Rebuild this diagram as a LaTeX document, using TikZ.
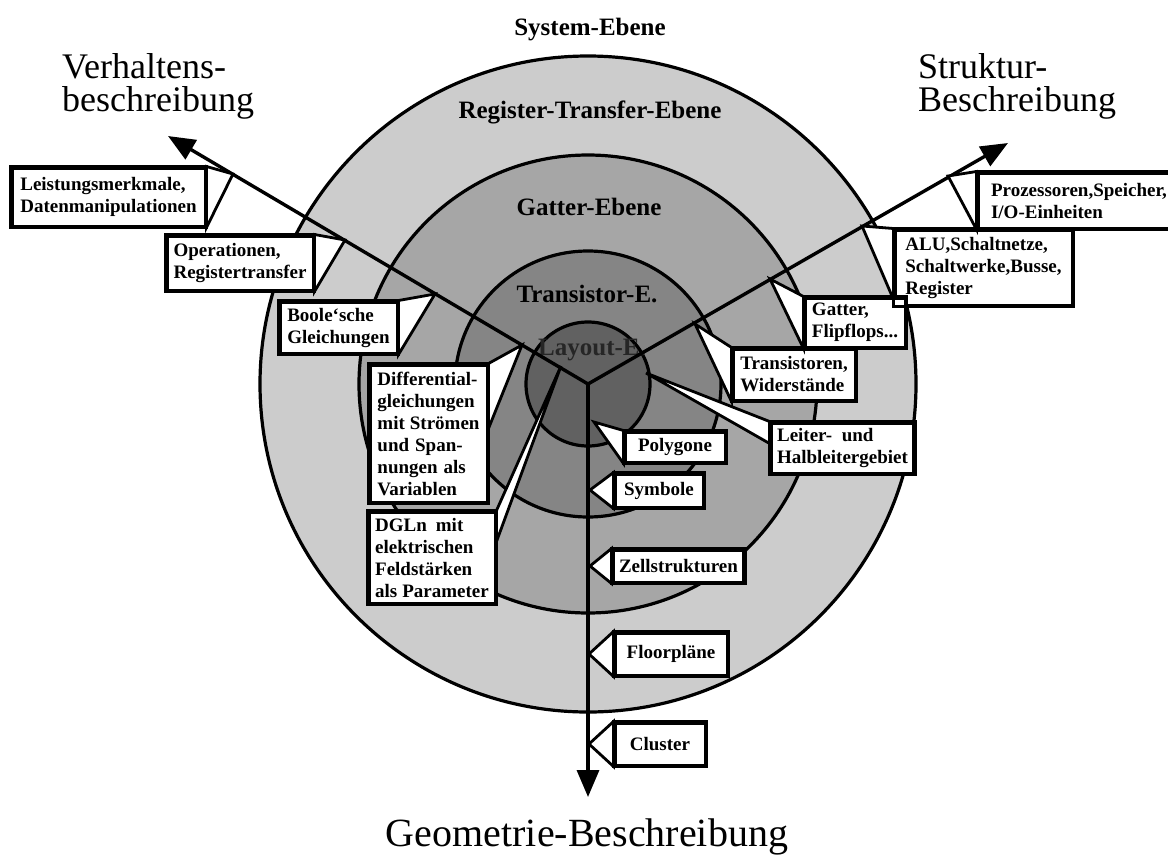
\documentclass[tikz,border=0pt]{standalone}
\usepackage{fontspec}
\setmainfont{Liberation Serif}
\usetikzlibrary{arrows.meta,calc}

\begin{document}
\begin{tikzpicture}[x=1pt,y=-1pt,
  ring/.style={draw=black, line width=3.2pt},
  axis/.style={line width=3.4pt, -{Triangle[length=27pt,width=22pt]}},
  lbl/.style={draw, fill=white, line width=3pt,
    font=\fontsize{19}{22}\selectfont\bfseries, align=left,
    inner xsep=6pt, inner ysep=2pt},
  frame/.style={line width=3pt},
  flag/.style={draw, fill=white, line width=2.8pt, line join=miter},
  level/.style={font=\fontsize{25}{28}\selectfont\bfseries, anchor=base},
  view/.style={font=\fontsize{36}{33}\selectfont, align=left, inner sep=0pt, anchor=north west}
]
\useasboundingbox (0,0) rectangle (1168,863);
\clip (0,0) rectangle (1168,863);
\fill[white] (0,0) rectangle (1168,863);

% abstraction levels as concentric rings
\coordinate (c) at (588,384);
\filldraw[ring, fill=black!20] (c) circle[radius=328];
\filldraw[ring, fill=black!35] (c) circle[radius=229];
\filldraw[ring, fill=black!48] (c) circle[radius=133];
\filldraw[ring, fill=black!62] (c) circle[radius=62];

\node[level] (sys) at (590,35) {System-Ebene};
\node[level] (rt)  at (590,118) {Register-Transfer-Ebene};
\node[level] (ga)  at (589,215) {Gatter-Ebene};
\node[level] (tr)  at (587,302) {Transistor-E.};
\node[level, text=black!85] (la)  at (592,355) {Layout-E.};

% the three views
\coordinate (vtip) at (168,136);
\coordinate (stip) at (1008,143);
\coordinate (gtip) at (588,797);
\draw[axis] (c) -- (vtip);
\draw[axis] (c) -- (stip);
\draw[axis] (c) -- (gtip);

\node[view] (verh) at (62,53) {Verhaltens-\\beschreibung};
\node[view] (strk) at (918,53) {Struktur-\\Beschreibung};
\node[font=\fontsize{40}{42}\selectfont, anchor=base] (geom) at (587,846) {Geometrie-Beschreibung};

% callout boxes
\node[lbl, minimum width=193pt, minimum height=58pt] (leist) at (108.5,197) {Leistungsmerkmale,\\Datenmanipulationen};
\node[lbl, minimum width=146pt, minimum height=54pt] (oper) at (240,263) {Operationen,\\Registertransfer};
\node[lbl, minimum width=117pt, minimum height=51pt] (boole) at (338.5,327.5) {Boole‘sche\\Gleichungen};
\node[lbl, minimum width=117pt, minimum height=137pt] (diff) at (428.5,433.5)
  {Differential-\\gleichungen\\mit\hspace{5pt}Strömen\\und\hspace{6pt}Span-\\nungen\hspace{6pt}als\\Variablen};
\node[lbl, minimum width=126pt, minimum height=91pt] (dgln) at (432,557.5)
  {DGLn\hspace{9pt}mit\\elektrischen\\Feldstärken\\als\hspace{5pt}Parameter};

\node[lbl, minimum width=202pt, minimum height=55pt] (proz) at (1079,200.5) {Prozessoren,Speicher,\\I/O-Einheiten};
\node[lbl, minimum width=177pt, minimum height=75pt] (alu) at (983.5,267.5) {ALU,Schaltnetze,\\Schaltwerke,Busse,\\Register};
\node[lbl, minimum width=100pt, minimum height=49pt] (gatt) at (855,322.5) {Gatter,\\Flipflops...};
\node[lbl, minimum width=122pt, minimum height=51pt] (trans) at (794,374.5) {Transistoren,\\Widerstände};
\node[lbl, minimum width=141pt, minimum height=50pt] (leiter) at (842.5,448) {Leiter-\ \ und\\Halbleitergebiet};

\node[lbl, minimum width=100pt, minimum height=30pt] (poly) at (675,447) {Polygone};
\node[lbl, minimum width=88pt, minimum height=33pt] (symb) at (659,490.5) {Symbole};
\node[lbl, minimum width=127pt, minimum height=32pt] (zell) at (678.5,566) {Zellstrukturen};
\node[lbl, minimum width=112pt, minimum height=42pt] (floor) at (671,654) {Floorpläne};
\node[lbl, minimum width=90pt, minimum height=42pt] (clus) at (660,744) {Cluster};

% pointer tips on the axes
\coordinate (pLeist) at (233,174);
\coordinate (pOper) at (345,240);
\coordinate (pBoole) at (435,294);
\coordinate (pDiff) at (522,345);
\coordinate (pDgln) at (561,366);
\coordinate (pProz) at (948,176);
\coordinate (pAlu) at (862,226);
\coordinate (pGatt) at (770,279);
\coordinate (pTrans) at (695,324);
\coordinate (pLeiter) at (646,373);
\coordinate (pPoly) at (594,422);
\coordinate (pSymb) at (590,490);
\coordinate (pZell) at (590,566);
\coordinate (pFloor) at (589,654);
\coordinate (pClus) at (589,744);

% white pointer flags
\filldraw[flag] (leist.north east) -- (pLeist) -- (leist.south east) -- cycle;
\filldraw[flag] (oper.north east) -- (pOper) -- (oper.south east) -- cycle;
\filldraw[flag] (boole.north east) -- (pBoole) -- (boole.south east) -- cycle;
\filldraw[flag] (diff.north east) -- (pDiff) -- ($(diff.north east)+(0,65)$) -- cycle;
\filldraw[flag] (dgln.north east) -- (pDgln) -- ($(dgln.north east)+(0,31)$) -- cycle;
\filldraw[flag] (proz.north west) -- (pProz) -- (proz.south west) -- cycle;
\filldraw[flag] (alu.north west) -- (pAlu) -- ($(alu.south west)+(0,-7)$) -- cycle;
\filldraw[flag] (gatt.north west) -- (pGatt) -- (gatt.south west) -- cycle;
\filldraw[flag] (trans.north west) -- (pTrans) -- (trans.south west) -- cycle;
\filldraw[flag] (leiter.north west) -- (pLeiter) -- ($(leiter.north west)+(0,22)$) -- cycle;
\filldraw[flag] (poly.north west) -- (pPoly) -- (poly.south west) -- cycle;
\filldraw[flag] (symb.north west) -- (pSymb) -- (symb.south west) -- cycle;
\filldraw[flag] (zell.north west) -- (pZell) -- (zell.south west) -- cycle;
\filldraw[flag] (floor.north west) -- (pFloor) -- (floor.south west) -- cycle;
\filldraw[flag] (clus.north west) -- (pClus) -- (clus.south west) -- cycle;

% box frames kept on top of their flags
\foreach \b in {leist,oper,boole,diff,dgln,proz,alu,gatt,trans,leiter,poly,symb,zell,floor,clus}
  \draw[frame] (\b.north west) rectangle (\b.south east);
\end{tikzpicture}
\end{document}
